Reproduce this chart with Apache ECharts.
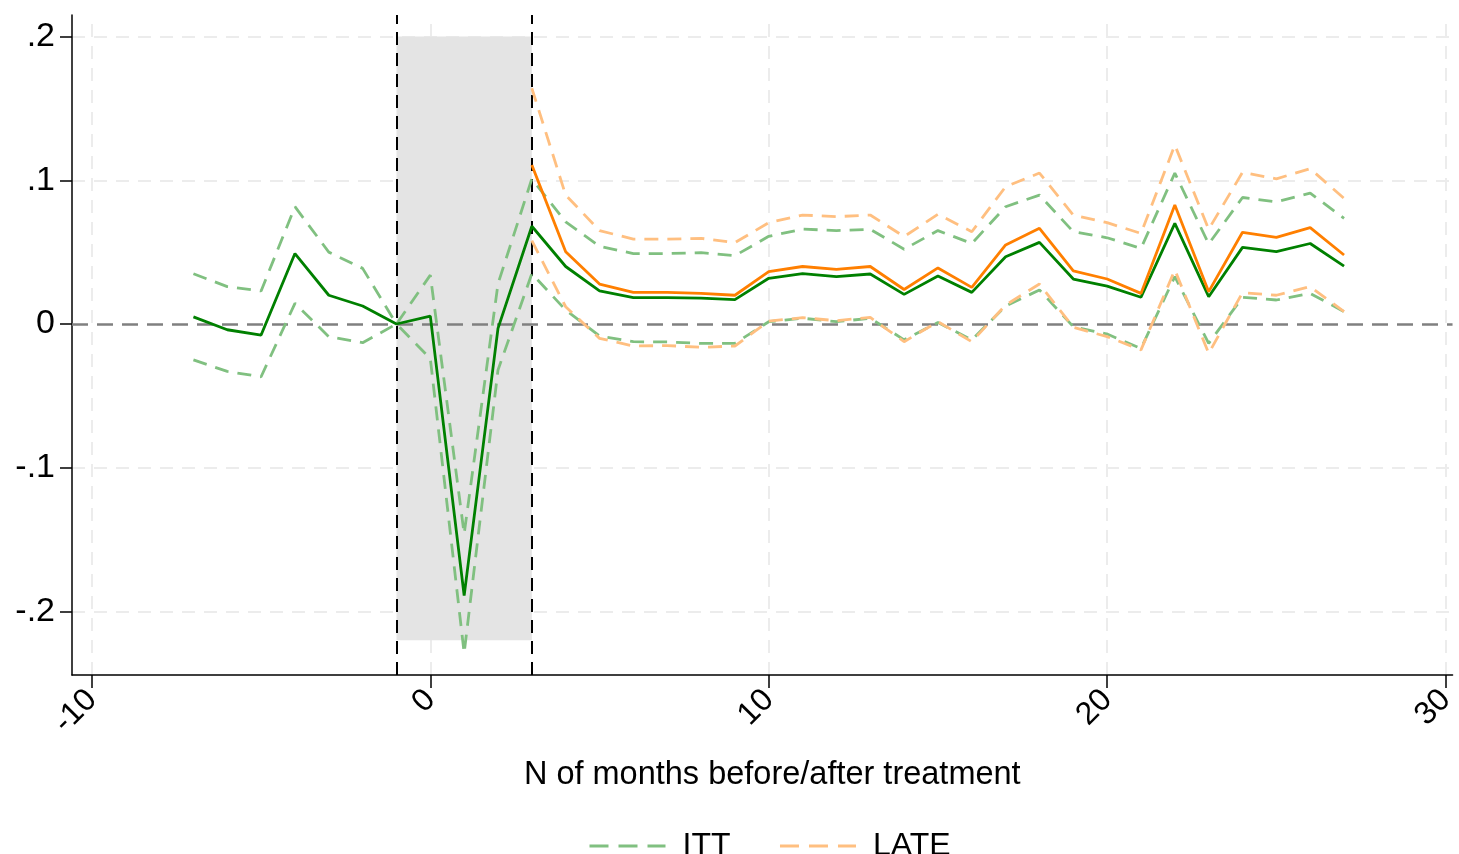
<!DOCTYPE html>
<html>
<head>
<meta charset="utf-8">
<title>ITT and LATE event study</title>
<script src="https://cdn.jsdelivr.net/npm/echarts@6/dist/echarts.min.js"></script>
<style>
  html, body { margin: 0; padding: 0; background: #ffffff; }
  #chart { width: 1459px; height: 854px; }
</style>
</head>
<body>
<div id="chart"></div>
<script>
// Months relative to treatment
const ittMonths = [-7, -6, -5, -4, -3, -2, -1, 0, 1, 2, 3, 4, 5, 6, 7, 8, 9, 10, 11, 12, 13, 14, 15, 16, 17, 18, 19, 20, 21, 22, 23, 24, 25, 26, 27];
const lateMonths = [3, 4, 5, 6, 7, 8, 9, 10, 11, 12, 13, 14, 15, 16, 17, 18, 19, 20, 21, 22, 23, 24, 25, 26, 27];

// Intention-to-treat estimates with confidence bounds
const ittEstimate = [0.005, -0.004, -0.0077, 0.049, 0.020, 0.0125, 0, 0.0055, -0.189, -0.003, 0.068, 0.040, 0.023, 0.0183, 0.0183, 0.018, 0.017, 0.0318, 0.035, 0.033, 0.0348, 0.0206, 0.0334, 0.022, 0.0468, 0.0568, 0.0313, 0.0264, 0.0186, 0.070, 0.019, 0.0533, 0.0503, 0.056, 0.0403];
const ittUpper = [0.035, 0.026, 0.023, 0.0816, 0.050, 0.0387, 0, 0.034, -0.146, 0.028, 0.101, 0.071, 0.054, 0.049, 0.049, 0.0496, 0.0475, 0.061, 0.066, 0.065, 0.0659, 0.052, 0.065, 0.056, 0.0816, 0.0897, 0.0642, 0.060, 0.0526, 0.105, 0.0557, 0.088, 0.085, 0.091, 0.0735];
const ittLower = [-0.025, -0.033, -0.0367, 0.0144, -0.0088, -0.013, 0, -0.024, -0.229, -0.032, 0.035, 0.0097, -0.0083, -0.0123, -0.0125, -0.0135, -0.0135, 0.0016, 0.004, 0.0016, 0.004, -0.011, 0.001, -0.011, 0.0125, 0.0237, -0.0019, -0.007, -0.017, 0.033, -0.0135, 0.0186, 0.0167, 0.0213, 0.0086];

// Local average treatment effect estimates with confidence bounds
const lateEstimate = [0.1106, 0.0503, 0.0278, 0.022, 0.022, 0.0213, 0.020, 0.0364, 0.040, 0.038, 0.040, 0.024, 0.039, 0.0255, 0.055, 0.0666, 0.037, 0.0313, 0.0213, 0.0828, 0.0225, 0.0638, 0.0603, 0.067, 0.048];
const lateUpper = [0.164, 0.0897, 0.065, 0.059, 0.059, 0.0596, 0.0566, 0.0705, 0.0758, 0.0747, 0.0758, 0.0608, 0.0763, 0.0642, 0.0955, 0.105, 0.0758, 0.0705, 0.063, 0.1245, 0.0659, 0.1055, 0.101, 0.108, 0.0874];
const lateLower = [0.058, 0.012, -0.010, -0.0153, -0.015, -0.0162, -0.0153, 0.002, 0.0044, 0.0023, 0.0046, -0.0123, 0.0016, -0.0123, 0.0132, 0.0278, -0.0023, -0.0088, -0.018, 0.0376, -0.0204, 0.0218, 0.020, 0.026, 0.0086];

// Axis ticks and labels
const xTicks = [-10, 0, 10, 20, 30];
const yTicks = [-0.2, -0.1, 0, 0.1, 0.2];
const yTickLabels = ['-.2', '-.1', '0', '.1', '.2'];

// Treatment window and its shaded band
const windowStart = -1;
const windowEnd = 3;
const bandBottom = -0.22;
const bandTop = 0.2;

const FONT = '"Liberation Sans", Arial, Helvetica, sans-serif';
const GREEN = '#008000';
const GREEN_CI = '#80c080';
const ORANGE = '#ff7f00';
const ORANGE_CI = '#ffbf80';
const DASH = [14, 9];

const pairs = (xs, ys) => xs.map((x, i) => [x, ys[i]]);

function lineSeries(name, xs, ys, color, dashed, z) {
  return {
    name: name,
    type: 'line',
    data: pairs(xs, ys),
    symbol: 'none',
    z: z,
    lineStyle: { color: color, width: 2.8, type: dashed ? DASH : 'solid' },
    itemStyle: { color: color },
    emphasis: { disabled: true },
    animation: false
  };
}

const chart = echarts.init(document.getElementById('chart'), null, { renderer: 'canvas' });

const option = {
  animation: false,
  backgroundColor: '#ffffff',
  textStyle: { fontFamily: FONT },
  grid: { left: 72, right: 0, top: 15, bottom: 179, containLabel: false },
  xAxis: {
    type: 'value',
    min: -10.588,
    max: 30.206,
    name: 'N of months before/after treatment',
    nameLocation: 'middle',
    nameGap: 84,
    nameTextStyle: { color: '#000', fontSize: 32.5, fontFamily: FONT, padding: [0, 0, 0, 20] },
    axisLine: { show: true, onZero: false, lineStyle: { color: '#000', width: 1.5 } },
    axisTick: { show: true, length: 13, customValues: xTicks, lineStyle: { color: '#000', width: 1.5 } },
    axisLabel: {
      customValues: xTicks,
      rotate: 45,
      margin: 20,
      color: '#000',
      fontSize: 32,
      fontFamily: FONT,
      formatter: v => String(Math.round(v))
    },
    splitLine: { show: false }
  },
  yAxis: {
    type: 'value',
    min: -0.24417,
    max: 0.21496,
    axisLine: { show: true, onZero: false, lineStyle: { color: '#000', width: 1.5 } },
    axisTick: { show: true, length: 12, customValues: yTicks, lineStyle: { color: '#000', width: 1.5 } },
    axisLabel: {
      customValues: yTicks,
      margin: 17,
      color: '#000',
      fontSize: 34,
      fontFamily: FONT,
      formatter: v => {
        const i = yTicks.findIndex(t => Math.abs(t - v) < 1e-9);
        return i >= 0 ? yTickLabels[i] : '';
      }
    },
    splitLine: { show: false }
  },
  legend: {
    data: ['ITT', 'LATE'],
    top: 825,
    left: 583,
    itemWidth: 76,
    itemHeight: 14,
    itemGap: 48,
    itemStyle: { opacity: 0 },
    lineStyle: { width: 3, type: [19, 10] },
    textStyle: { color: '#000', fontSize: 32, fontFamily: FONT, padding: [0, 0, 0, 12] },
    selectedMode: false
  },
  series: [
    // light dashed reference grid
    {
      name: 'grid',
      type: 'line',
      data: [],
      z: 0,
      silent: true,
      markLine: {
        silent: true,
        z: 0,
        symbol: ['none', 'none'],
        label: { show: false },
        animation: false,
        lineStyle: { color: '#ececec', width: 2, type: [13, 9] },
        data: yTicks.filter(v => v !== 0).map(v => ({ yAxis: v })).concat(xTicks.map(v => ({ xAxis: v })))
      }
    },
    // shaded treatment window
    {
      name: 'window',
      type: 'line',
      data: [],
      z: 1,
      silent: true,
      markArea: {
        silent: true,
        z: 1,
        itemStyle: { color: '#e4e4e4' },
        label: { show: false },
        data: [[{ xAxis: windowStart, yAxis: bandBottom }, { xAxis: windowEnd, yAxis: bandTop }]]
      }
    },
    // zero reference and window boundaries
    {
      name: 'guides',
      type: 'line',
      data: [],
      z: 2,
      silent: true,
      markLine: {
        silent: true,
        z: 2,
        symbol: ['none', 'none'],
        label: { show: false },
        animation: false,
        data: [
          { yAxis: 0, lineStyle: { color: '#808080', width: 2.5, type: [16, 9] } },
          { xAxis: windowStart, lineStyle: { color: '#000', width: 2, type: [13, 8] } },
          { xAxis: windowEnd, lineStyle: { color: '#000', width: 2, type: [13, 8] } }
        ]
      }
    },
    lineSeries('ITT', ittMonths, ittUpper, GREEN_CI, true, 3),
    lineSeries('ITT', ittMonths, ittLower, GREEN_CI, true, 3),
    lineSeries('LATE', lateMonths, lateUpper, ORANGE_CI, true, 4),
    lineSeries('LATE', lateMonths, lateLower, ORANGE_CI, true, 4),
    lineSeries('ITT estimate', ittMonths, ittEstimate, GREEN, false, 5),
    lineSeries('LATE estimate', lateMonths, lateEstimate, ORANGE, false, 6)
  ]
};

chart.setOption(option);
</script>
</body>
</html>
